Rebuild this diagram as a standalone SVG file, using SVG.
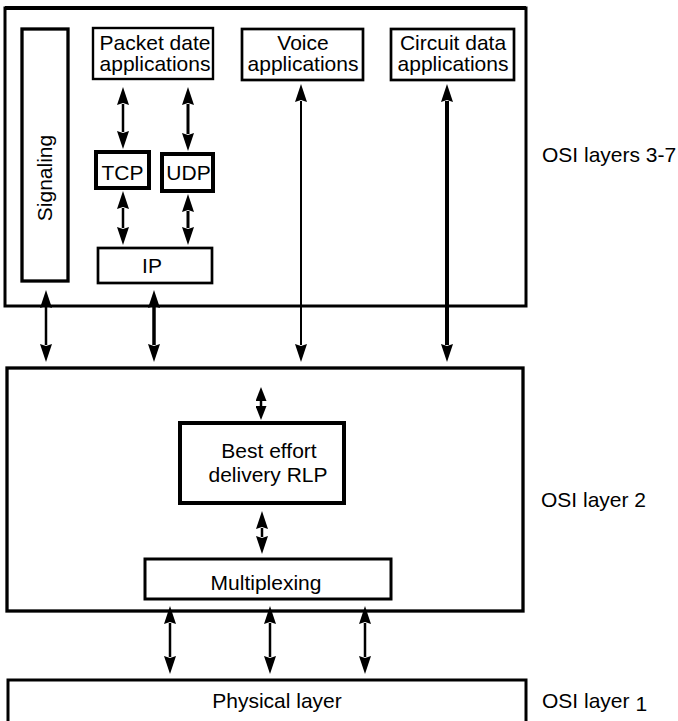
<svg xmlns="http://www.w3.org/2000/svg" width="678" height="721" viewBox="0 0 678 721">
  <style>
    .box { fill: #fff; stroke: #000; }
    .txt { font-family: "Liberation Sans", Arial, sans-serif; font-size: 21px; fill: #000; }
    .mid { text-anchor: middle; }
    .link { stroke: #000; fill: none; marker-start: url(#head); marker-end: url(#head); }
    .short { marker-start: url(#headSmall); marker-end: url(#headSmall); }
  </style>
  <defs>
    <marker id="head" markerUnits="userSpaceOnUse" viewBox="0 0 18 12" markerWidth="18" markerHeight="12" refX="1" refY="6" orient="auto-start-reverse">
      <path d="M0,0 L18,6 L0,12 L2,6 Z" fill="#000"/>
    </marker>
    <marker id="headSmall" markerUnits="userSpaceOnUse" viewBox="0 0 14 11" markerWidth="14" markerHeight="11" refX="1" refY="5.5" orient="auto-start-reverse">
      <path d="M0,0 L14,5.5 L0,11 Z" fill="#000"/>
    </marker>
  </defs>

  <rect width="678" height="721" fill="#fff"/>

  <!-- OSI layers 3-7 container -->
  <g id="upper-layers">
    <rect class="box" x="5" y="8" width="521" height="298" stroke-width="3"/>
    <line x1="5" y1="8" x2="526" y2="8" stroke="#000" stroke-width="4"/>
  </g>

  <g id="signaling">
    <rect class="box" x="22" y="29" width="46" height="252" stroke-width="3.3"/>
    <text class="txt mid" transform="translate(52,178) rotate(-90)">Signaling</text>
  </g>

  <g id="packet-apps">
    <rect class="box" x="93" y="28" width="120" height="51" stroke-width="2.4"/>
    <text class="txt mid" x="155" y="50">Packet date</text>
    <text class="txt mid" x="155" y="71">applications</text>
  </g>

  <g id="voice-apps">
    <rect class="box" x="242" y="29" width="121" height="51" stroke-width="2.7"/>
    <text class="txt mid" x="303" y="50">Voice</text>
    <text class="txt mid" x="303" y="71">applications</text>
  </g>

  <g id="circuit-apps">
    <rect class="box" x="391" y="29" width="123" height="51" stroke-width="2.7"/>
    <text class="txt mid" x="453" y="50">Circuit data</text>
    <text class="txt mid" x="453" y="71">applications</text>
  </g>

  <g id="tcp">
    <rect class="box" x="96" y="152" width="53" height="36" stroke-width="4"/>
    <text class="txt mid" x="122.5" y="180">TCP</text>
  </g>

  <g id="udp">
    <rect class="box" x="162" y="154" width="51" height="37" stroke-width="4"/>
    <text class="txt mid" x="188.5" y="180">UDP</text>
  </g>

  <g id="ip">
    <rect class="box" x="98" y="248" width="114" height="35" stroke-width="2.7"/>
    <text class="txt mid" x="152" y="273">IP</text>
  </g>

  <!-- OSI layer 2 container -->
  <g id="layer2">
    <rect class="box" x="7" y="368" width="516" height="243" stroke-width="3.3"/>
  </g>

  <g id="rlp">
    <rect class="box" x="180" y="423" width="164" height="80" stroke-width="4"/>
    <text class="txt mid" x="269" y="458">Best effort</text>
    <text class="txt mid" x="268" y="482">delivery RLP</text>
  </g>

  <g id="multiplexing">
    <rect class="box" x="145" y="559" width="246" height="40" stroke-width="3"/>
    <text class="txt mid" x="266" y="590">Multiplexing</text>
  </g>

  <!-- OSI layer 1 -->
  <g id="physical">
    <rect class="box" x="8" y="680" width="518" height="50" stroke-width="3"/>
    <text class="txt mid" x="277" y="708">Physical layer</text>
  </g>

  <!-- layer captions -->
  <g id="captions">
    <text class="txt" x="542" y="162">OSI layers 3-7</text>
    <text class="txt" x="541" y="507">OSI layer 2</text>
    <text class="txt" x="542" y="708">OSI layer <tspan dy="3">1</tspan></text>
  </g>

  <!-- connectors: every link is two-headed; endpoints sit at the arrowhead bases -->
  <g id="connectors">
    <line class="link" x1="123" y1="104" x2="123" y2="132" stroke-width="2.5"/>
    <line class="link" x1="188" y1="104" x2="188" y2="134" stroke-width="3"/>
    <line class="link" x1="123" y1="208" x2="123" y2="228" stroke-width="2.5"/>
    <line class="link" x1="188" y1="211" x2="188" y2="228" stroke-width="3"/>
    <line class="link" x1="46" y1="307" x2="46" y2="345" stroke-width="2.5"/>
    <line class="link" x1="154" y1="307" x2="154" y2="345" stroke-width="3.5"/>
    <line class="link" x1="301" y1="101" x2="301" y2="345" stroke-width="2"/>
    <line class="link" x1="447" y1="101" x2="447" y2="345" stroke-width="4"/>
    <line class="link short" x1="261" y1="400" x2="261" y2="407" stroke-width="2.5"/>
    <line class="link" x1="262" y1="528" x2="262" y2="537" stroke-width="2.5"/>
    <line class="link" x1="170" y1="623" x2="170" y2="657" stroke-width="2.5"/>
    <line class="link" x1="270" y1="623" x2="270" y2="657" stroke-width="2.5"/>
    <line class="link" x1="365" y1="623" x2="365" y2="657" stroke-width="2.5"/>
  </g>
</svg>
